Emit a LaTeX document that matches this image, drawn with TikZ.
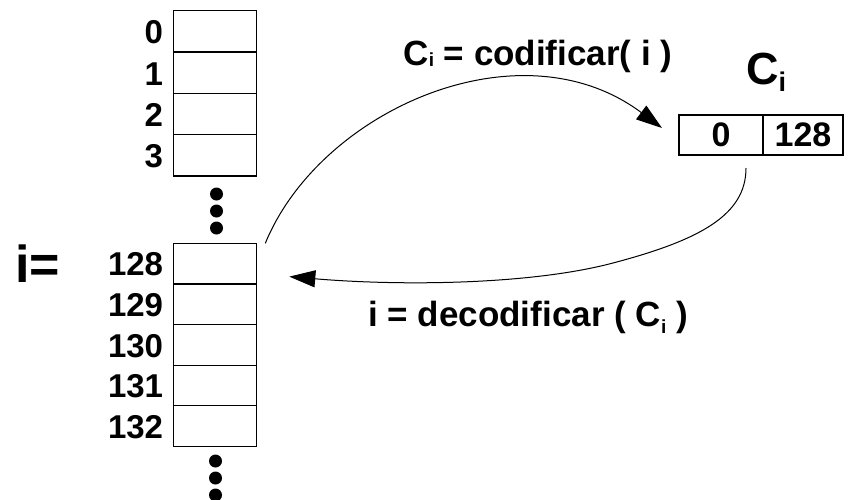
\documentclass[tikz,border=0pt]{standalone}
\usepackage{fontspec}
\setmainfont{Liberation Sans}
\usetikzlibrary{arrows.meta,calc}
\newcommand\subidx[2]{\raisebox{#2}{\fontsize{#1}{#1}\selectfont i}}
\begin{document}
\begin{tikzpicture}[x=1pt,y=-1pt,
  cellA/.style={draw, line width=1.2pt, minimum width=83pt, minimum height=41.3pt, inner sep=0pt, outer sep=0pt, anchor=north west},
  cellB/.style={draw, line width=1.2pt, minimum width=83pt, minimum height=40.6pt, inner sep=0pt, outer sep=0pt, anchor=north west},
  cellC/.style={draw, line width=1.2pt, minimum height=40pt, inner sep=0pt, outer sep=0pt, anchor=north west, font=\fontsize{34}{40}\selectfont\bfseries},
  lbl/.style={inner sep=0pt, anchor=east, font=\fontsize{33}{38}\selectfont\bfseries},
  ttl/.style={inner sep=0pt, anchor=base, font=\fontsize{35}{40}\selectfont\bfseries},
  dotmark/.style={fill=black, circle, inner sep=0pt, minimum size=13pt},
  conn/.style={line width=1pt, -{Triangle[length=26pt,width=17pt]}}
]
\path[use as bounding box] (0,0) rectangle (848,499);
% top array
\foreach \k in {0,1,2,3} {
  \node[cellA] (t\k) at (173.3, {10.7+41.3*\k}) {};
  \node[lbl] at ($(t\k.west)+(-10,1)$) {\k};
}
\foreach \yy [count=\n] in {194,211,228} \node[dotmark] (dt\n) at (216.5,\yy) {};
% bottom array
\foreach \k/\lab in {0/128,1/129,2/130,3/131,4/132} {
  \node[cellB] (b\k) at (173.3, {243.3+40.6*\k}) {};
  \node[lbl] at ($(b\k.west)+(-10,1)$) {\lab};
}
\foreach \yy [count=\n] in {461,478,495} \node[dotmark] (db\n) at (215.5,\yy) {};
\node[inner sep=0pt, anchor=base west, font=\fontsize{52}{60}\selectfont\bfseries] (ieq) at (15,282) {i=};
% code box
\node[cellC, minimum width=84pt] (c0) at (679,115) {0};
\node[cellC, minimum width=80pt] (c1) at (763,115) {128};
\node[inner sep=0pt, anchor=base west, font=\fontsize{45}{52}\selectfont\bfseries] (cbig) at (746,84) {C\subidx{27}{-7pt}};
% labels
\node[ttl] (enc) at (538,65) {C\subidx{19}{-1.5pt} = codificar( i )};
\node[ttl] (dec) at (528,326) {i = decodificar ( C\subidx{19}{-7pt} )};
% connectors
\coordinate (encstart) at ($(b0.north east)+(9,0)$);
\coordinate (encend) at ($(c0.north west)+(-17,13)$);
\coordinate (decstart) at ($(c0.south east)+(-17,13)$);
\coordinate (decend) at ($(b0.east)+(33,13)$);
\draw[conn] (encstart) .. controls (320,110) and (520,22) .. (encend);
\draw[conn] (decstart) .. controls (746,215) and (700,240) .. (613,263)
   .. controls (530,285) and (400,286) .. (decend);
\end{tikzpicture}
\end{document}
